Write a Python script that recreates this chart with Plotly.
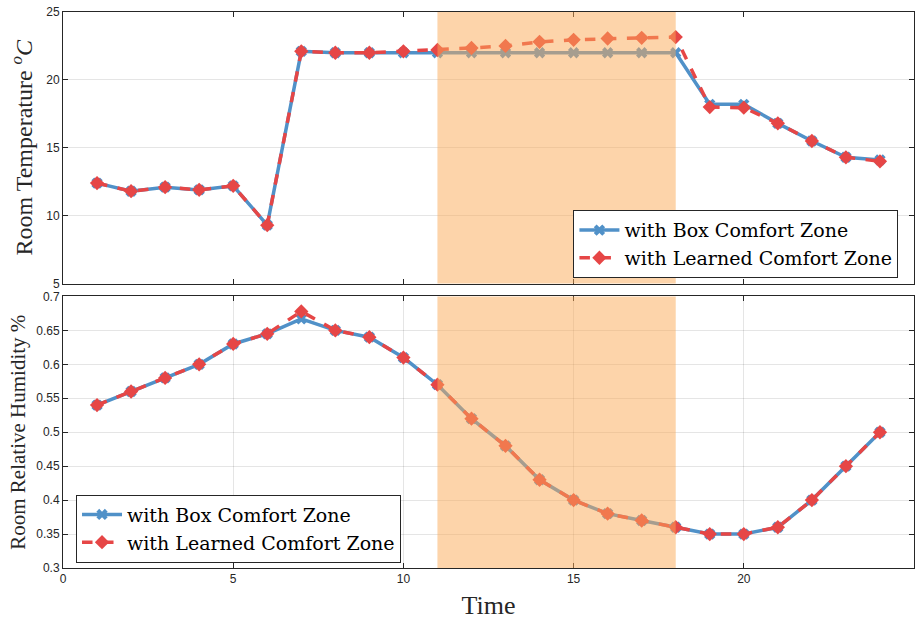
import plotly.graph_objects as go
from plotly.subplots import make_subplots

time = list(range(1, 25))
temp_box = [12.4, 11.8, 12.1, 11.9, 12.2, 9.3, 22.1, 22.0, 22.0, 22.0, 22.0, 22.0,
            22.0, 22.0, 22.0, 22.0, 22.0, 22.0, 18.2, 18.2, 16.8, 15.5, 14.3, 14.1]
temp_learned = [12.4, 11.8, 12.1, 11.9, 12.2, 9.3, 22.1, 22.0, 22.0, 22.1, 22.2, 22.35,
                22.5, 22.8, 22.95, 23.05, 23.1, 23.15, 18.0, 17.95, 16.8, 15.5, 14.3, 14.0]
hum_box = [0.54, 0.56, 0.58, 0.60, 0.63, 0.645, 0.667, 0.65, 0.64, 0.61, 0.57, 0.52,
           0.48, 0.43, 0.40, 0.38, 0.37, 0.36, 0.35, 0.35, 0.36, 0.40, 0.45, 0.50]
hum_learned = [0.54, 0.56, 0.58, 0.60, 0.63, 0.645, 0.678, 0.65, 0.64, 0.61, 0.57, 0.52,
               0.48, 0.43, 0.40, 0.38, 0.37, 0.36, 0.35, 0.35, 0.36, 0.40, 0.45, 0.50]
shade_range = [11, 18]
series_names = ["with Box Comfort Zone", "with Learned Comfort Zone"]

BLUE = "rgb(80,145,200)"
RED = "rgb(230,70,70)"
SERIF = "Liberation Serif"

fig = make_subplots(rows=2, cols=1, shared_xaxes=False, vertical_spacing=0.0232)

for row, (yb, yl, lg) in enumerate([(temp_box, temp_learned, "legend"),
                                    (hum_box, hum_learned, "legend2")], start=1):
    fig.add_trace(go.Scatter(x=time, y=yb, mode="lines+markers", name=series_names[0],
                             line=dict(color=BLUE, width=3.5),
                             marker=dict(symbol="x", size=10, color=BLUE),
                             legend=lg), row=row, col=1)
    fig.add_trace(go.Scatter(x=time, y=yl, mode="lines+markers", name=series_names[1],
                             line=dict(color=RED, width=3.5, dash="dash"),
                             marker=dict(symbol="diamond", size=11, color=RED),
                             legend=lg), row=row, col=1)

for yref in ["y domain", "y2 domain"]:
    xref = "x" if yref == "y domain" else "x2"
    fig.add_shape(type="rect", xref=xref, yref=yref, x0=shade_range[0], x1=shade_range[1],
                  y0=0, y1=1, fillcolor="rgb(251,170,85)", opacity=0.5,
                  line=dict(width=0), layer="above")

tickfont = dict(family="Liberation Sans, Arial", size=12, color="#262626")
axis_common = dict(showline=True, linecolor="#262626", linewidth=1, mirror="ticks",
                   ticks="inside", ticklen=5, tickcolor="#262626", tickfont=tickfont,
                   gridcolor="rgba(0,0,0,0.1)", zeroline=False)

fig.update_xaxes(range=[0, 25], dtick=5, **axis_common)
fig.update_yaxes(**axis_common)
fig.update_xaxes(showticklabels=False, showgrid=False, row=1, col=1)
fig.update_xaxes(showgrid=True, row=2, col=1,
                 title=dict(text="Time", font=dict(family=SERIF, size=26, color="#262626"),
                            standoff=10))
fig.update_yaxes(range=[5, 25], dtick=5, showgrid=True, row=1, col=1,
                 title=dict(text="Room Temperature <sup><i>o</i></sup><i>C</i>",
                            font=dict(family=SERIF, size=24, color="#262626"), standoff=6))
fig.update_yaxes(range=[0.3, 0.7], dtick=0.05, showgrid=True, row=2, col=1,
                 title=dict(text="Room Relative Humidity %",
                            font=dict(family=SERIF, size=21, color="#262626"), standoff=4))

fig.layout.yaxis.domain = [0.5116, 1.0]
fig.layout.yaxis2.domain = [0.0, 0.4884]

legend_style = dict(bgcolor="white", bordercolor="#262626", borderwidth=1,
                    font=dict(family="DejaVu Serif", size=19, color="black"),
                    xanchor="left", yanchor="top", tracegroupgap=0, itemwidth=40)
fig.update_layout(
    width=920, height=621,
    margin=dict(l=63, r=5, t=7, b=53),
    plot_bgcolor="white", paper_bgcolor="white",
    legend=dict(x=0.5998, y=0.6435, **legend_style),
    legend2=dict(x=0.0153, y=0.132, **legend_style),
)

fig.write_html("out.html")
